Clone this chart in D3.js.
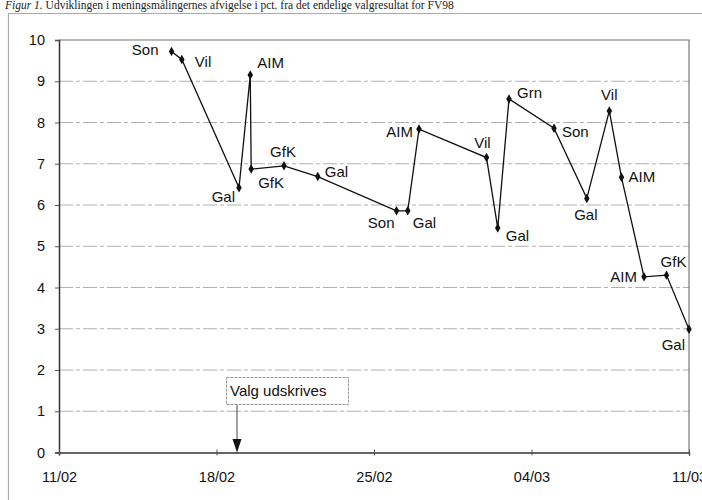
<!DOCTYPE html>
<html>
  <head>
    <meta charset="utf-8">
    <title>Figur 1</title>
    <script src="https://d3js.org/d3.v7.min.js"></script>
    <style>
      body { margin: 0; background: #fff; }
      svg { display: block; }
      .lbl { font-family: "Liberation Sans", Arial, sans-serif; font-size: 15px; fill: #111; }
      .axis text { font-family: "Liberation Sans", Arial, sans-serif; font-size: 14.5px; fill: #111; }
    </style>
  </head>
  <body>
    <div id="chart"></div>
    <script>
      // polls: institute, date of poll, deviation in pct. from the final result
      const pollsters = ["Son", "Vil", "Gal", "AIM", "GfK", "GfK", "Gal", "Son", "Gal", "AIM",
                         "Vil", "Gal", "Grn", "Son", "Gal", "Vil", "AIM", "AIM", "GfK", "Gal"];
      const pollDates = ["1998-02-16T00:00", "1998-02-16T11:00", "1998-02-19T00:00", "1998-02-19T12:00",
                         "1998-02-19T13:00", "1998-02-21T00:00", "1998-02-22T12:00", "1998-02-26T00:00",
                         "1998-02-26T12:00", "1998-02-27T00:00", "1998-03-02T00:00", "1998-03-02T12:00",
                         "1998-03-03T00:00", "1998-03-05T00:00", "1998-03-06T11:00", "1998-03-07T11:00",
                         "1998-03-08T00:00", "1998-03-09T00:00", "1998-03-10T00:00", "1998-03-11T00:00"];
      const deviation = [9.72, 9.53, 6.42, 9.15, 6.87, 6.95, 6.69, 5.86, 5.86, 7.84,
                         7.15, 5.44, 8.57, 7.86, 6.16, 8.28, 6.67, 4.26, 4.30, 2.99];
      const yTicks = [0, 1, 2, 3, 4, 5, 6, 7, 8, 9, 10];
      const xTicks = ["1998-02-11", "1998-02-18", "1998-02-25", "1998-03-04", "1998-03-11"];
      const xTickLabels = ["11/02", "18/02", "25/02", "04/03", "11/03"];
      const annotationText = "Valg udskrives";
      const annotationDate = "1998-02-19T00:00";
      const titleItalic = "Figur 1.";
      const titleText = " Udviklingen i meningsmålingernes afvigelse i pct. fra det endelige valgresultat for FV98";

      // where each label sits relative to its point [dx, dy, anchor]
      const labelPlace = [[-13, -2, "end"], [13, 2, "start"], [-4, 9, "end"], [7, -12, "start"],
                          [7, 14, "start"], [-1, -14, "middle"], [7, -5, "start"], [-2, 12, "end"],
                          [5, 12, "start"], [-6, 3, "end"], [-4, -15, "middle"], [8, 8, "start"],
                          [8, -6, "start"], [8, 3, "start"], [-1, 16, "middle"], [0, -16, "middle"],
                          [7, -1, "start"], [-7, 0, "end"], [7, -13, "middle"], [-4, 16, "end"]];

      const width = 702, height = 500;
      const margin = { top: 40, right: 13, bottom: 47.5, left: 59 };

      const parse = d3.utcParse("%Y-%m-%dT%H:%M");
      const parseDay = d3.utcParse("%Y-%m-%d");
      const data = pollsters.map((p, i) => ({ name: p, date: parse(pollDates[i]), value: deviation[i] }));

      const svg = d3.select("#chart")
        .append("svg")
          .attr("width", width)
          .attr("height", height);

      // title along the top edge
      const title = svg.append("text")
        .attr("x", 5)
        .attr("y", 9)
        .style("font-family", "'Liberation Serif', 'Times New Roman', serif")
        .style("font-size", "11.5px")
        .style("fill", "#222");
      title.append("tspan").style("font-style", "italic").text(titleItalic);
      title.append("tspan").text(titleText);

      // outer chart frame
      svg.append("path")
        .attr("d", "M8.5," + height + "V13.5H" + width)
        .attr("fill", "none")
        .attr("stroke", "#aaa")
        .attr("stroke-width", 1.2);

      const x = d3.scaleUtc()
        .domain([parseDay(xTicks[0]), parseDay(xTicks[xTicks.length - 1])])
        .range([margin.left, width - margin.right]);
      const y = d3.scaleLinear()
        .domain([0, 10])
        .range([height - margin.bottom, margin.top]);

      // gridlines
      svg.append("g")
        .selectAll("line")
        .data(yTicks.slice(1, -1))
        .enter().append("line")
          .attr("x1", margin.left)
          .attr("x2", width - margin.right)
          .attr("y1", d => y(d))
          .attr("y2", d => y(d))
          .attr("stroke", "#b0b0b0")
          .attr("stroke-dasharray", "14,3,4,3");

      // plot frame: top and right
      svg.append("path")
        .attr("d", "M" + margin.left + "," + y(10) + "H" + x.range()[1] + "V" + y(0))
        .attr("fill", "none")
        .attr("stroke", "#777")
        .attr("stroke-width", 1.2);

      // axes
      svg.append("g")
        .attr("class", "axis")
        .attr("transform", "translate(" + margin.left + ",0)")
        .call(d3.axisLeft(y).tickValues(yTicks).tickSize(4).tickPadding(10).tickFormat(d3.format("d")));
      const xAxis = svg.append("g")
        .attr("class", "axis")
        .attr("transform", "translate(0," + y(0) + ")")
        .call(d3.axisBottom(x).tickValues(xTicks.map(parseDay)).tickSize(3).tickPadding(16)
          .tickFormat((d, i) => xTickLabels[i]));
      svg.selectAll(".axis .domain").attr("stroke", "#333").attr("stroke-width", 1.5);
      svg.selectAll(".axis .tick line").attr("stroke", "#555");
      xAxis.selectAll(".tick line").attr("y1", -3);

      // poll line
      const line = d3.line()
        .x(d => x(d.date))
        .y(d => y(d.value));
      svg.append("path")
        .datum(data)
        .attr("d", line)
        .attr("fill", "none")
        .attr("stroke", "#111")
        .attr("stroke-width", 1.3);

      // markers
      svg.append("g")
        .selectAll("path")
        .data(data)
        .enter().append("path")
          .attr("transform", d => "translate(" + x(d.date) + "," + y(d.value) + ")")
          .attr("d", d3.symbol().type(d3.symbolDiamond).size(26))
          .attr("fill", "#111");

      // labels
      svg.append("g")
        .selectAll("text")
        .data(data)
        .enter().append("text")
          .attr("class", "lbl")
          .attr("x", (d, i) => x(d.date) + labelPlace[i][0])
          .attr("y", (d, i) => y(d.value) + labelPlace[i][1])
          .attr("dy", "0.35em")
          .attr("text-anchor", (d, i) => labelPlace[i][2])
          .text(d => d.name);

      // election called annotation
      const ax = x(parse(annotationDate)) - 2;
      svg.append("rect")
        .attr("x", 226.5)
        .attr("y", 377.5)
        .attr("width", 122)
        .attr("height", 27)
        .attr("fill", "#fff")
        .attr("stroke", "#999")
        .attr("stroke-dasharray", "3,1");
      svg.append("text")
        .attr("class", "lbl")
        .attr("x", 230)
        .attr("y", 396)
        .text(annotationText);
      svg.append("line")
        .attr("x1", ax)
        .attr("x2", ax)
        .attr("y1", 405)
        .attr("y2", 440)
        .attr("stroke", "#444");
      svg.append("path")
        .attr("d", "M" + (ax - 4.5) + ",439L" + (ax + 4.5) + ",439L" + ax + "," + y(0) + "Z")
        .attr("fill", "#111");
    </script>
  </body>
</html>
